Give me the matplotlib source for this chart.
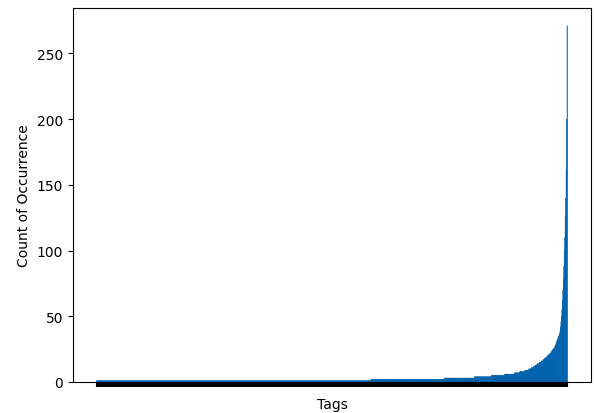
import matplotlib
matplotlib.use("Agg")
import matplotlib.pyplot as plt
import numpy as np

# Frequency table for the low counts: count value -> number of tags with that count
count_values = [1, 2, 3, 4, 5, 6, 7, 8, 9, 10, 11, 12]
tags_with_count = [580, 155, 64, 36, 28, 21, 11, 11, 8, 6, 4, 4]

# Individually read counts for the steep tail (ascending)
tail_counts = [13, 13, 13, 13, 14, 14, 14, 14, 15, 15, 15, 15, 15,
               16, 16, 16, 17, 17, 17, 18, 18, 18, 19, 19, 19, 20, 20, 20, 21, 21, 21,
               22, 22, 23, 23, 24, 24, 25, 25, 26, 26, 27,
               28, 29, 30, 31, 32, 33, 34, 35, 36, 37,
               39, 42, 46, 50, 55, 62, 70, 78, 88, 100, 110, 126, 140, 162, 200, 271]

counts = []
for v, n in zip(count_values, tags_with_count):
    counts.extend([v] * n)
counts.extend(tail_counts)
counts = sorted(counts)
tags = np.arange(len(counts))

fig = plt.figure(figsize=(5.95, 4.14), dpi=100)
ax = fig.add_axes([73/595, 1-383/414, (591-73)/595, (383-9)/414])
bars = ax.bar(tags, counts, width=1.0, color='#0062ad',
              edgecolor='#0062ad', linewidth=0.3)
for b in bars:
    b.set_snap(False)
ax.set_xticks(tags)
ax.set_xticklabels([''] * len(tags))
ax.tick_params(axis='x', width=1.5)
ax.set_yticks([0, 50, 100, 150, 200, 250])
ax.set_xlabel('Tags')
ax.set_ylabel('Count of Occurrence')
fig.savefig('out.png', dpi=100)
